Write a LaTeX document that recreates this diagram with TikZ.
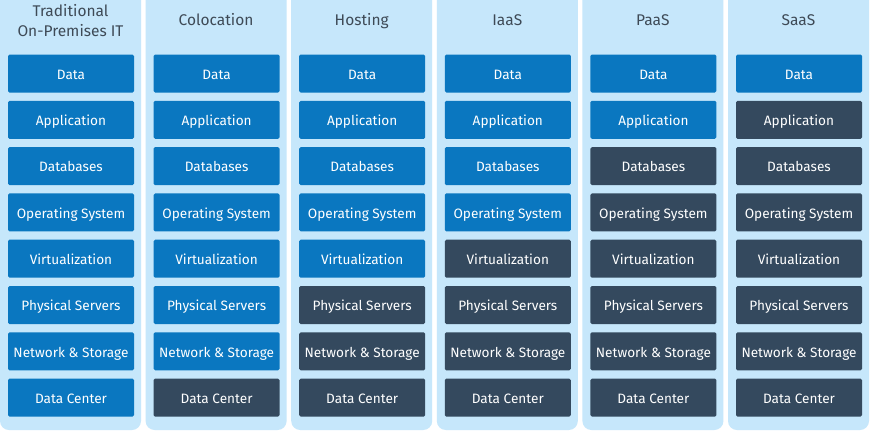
\documentclass[tikz,border=0pt]{standalone}
\usepackage{fontspec}
\setmainfont{Fira Sans}
\definecolor{bgcol}{HTML}{C6E7FB}
\definecolor{bluebox}{HTML}{0A77C0}
\definecolor{darkbox}{HTML}{34495E}
\definecolor{titlecol}{HTML}{3E4A56}
\tikzset{
  colbg/.style={fill=bgcol, draw=none, rounded corners=9pt},
  layerbox/.style={minimum width=126pt, minimum height=38pt, rounded corners=1.5pt, inner sep=0pt, text=white, font=\fontsize{13.6}{15}\selectfont, text height=11.5pt, text depth=0pt, anchor=center},
  own/.style={layerbox, fill=bluebox},
  prov/.style={layerbox, fill=darkbox},
  coltitle/.style={text=titlecol, font=\fontsize{15.5}{19.5}\selectfont, align=center, inner sep=0pt, anchor=center}
}
\begin{document}
\begin{tikzpicture}[x=1pt,y=-1pt]
\useasboundingbox (0,0) rectangle (870,440);
\fill[white] (0,0) rectangle (870,440);
% column titles and number of dark layers (from bottom)
\foreach \i/\t/\n in {0/{Traditional\\On-Premises IT}/0, 1/Colocation/1, 2/Hosting/3, 3/IaaS/4, 4/PaaS/6, 5/SaaS/7} {
  \pgfmathsetmacro{\cx}{\i*145.6}
  \fill[colbg] (\cx,-20) rectangle ++(141,450);
  \ifnum\i=0
    \node[coltitle] (title\i) at (\cx+70.5,20.5) {\t};
  \else
    \node[coltitle, text height=10.7pt, text depth=0pt] (title\i) at (\cx+70.5,20) {\t};
  \fi
  \foreach \j/\lab in {0/Data,1/Application,2/Databases,3/Operating System,4/Virtualization,5/Physical Servers,6/Network \& Storage,7/Data Center} {
    \pgfmathtruncatemacro{\isdark}{(\j >= 8-\n) ? 1 : 0}
    \ifnum\isdark=1
      \node[prov] (b\i-\j) at (\cx+71,73.5+\j*46.3) {\lab};
    \else
      \node[own] (b\i-\j) at (\cx+71,73.5+\j*46.3) {\lab};
    \fi
  }
}
\end{tikzpicture}
\end{document}
